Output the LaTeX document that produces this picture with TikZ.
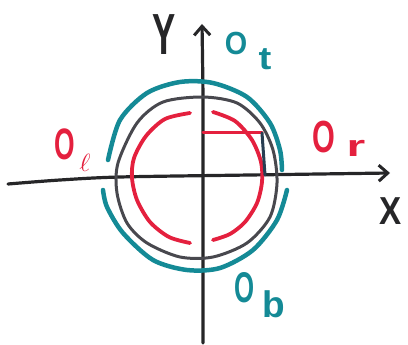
\documentclass[tikz,border=0pt]{standalone}
\usepackage{fontspec}
\setmainfont{Liberation Sans}
\usetikzlibrary{arrows.meta}
\definecolor{tealpen}{RGB}{20,138,150}
\definecolor{redpen}{RGB}{228,32,62}
\definecolor{graypen}{RGB}{72,72,78}
\definecolor{axispen}{RGB}{38,38,40}
\definecolor{navypen}{RGB}{40,62,82}
\tikzset{
  axis/.style={draw=axispen, line width=3.2pt, line cap=round, -{Straight Barb[length=9pt,width=16pt,line width=3pt]}},
  tealarc/.style={draw=tealpen, line width=4.5pt, line cap=round},
  grayring/.style={draw=graypen, line width=3pt},
  redarc/.style={draw=redpen, line width=3.8pt, line cap=round},
  lbl/.style={inner sep=0pt, anchor=base}
}
\begin{document}
\begin{tikzpicture}[x=1pt,y=-1pt]
\useasboundingbox (0,0) rectangle (408,345);
% axes
\draw[axis] plot[smooth] coordinates {(8,184) (60,180) (120,177) (250,175) (390,173)};
\draw[axis] plot[smooth] coordinates {(203,343) (203,200) (203,100) (202,24)};
% gray ring
\draw[grayring] plot[smooth cycle] coordinates {(203,97) (163,102) (137,123) (118,163) (117,193) (127,223) (147,243) (180,257) (213,257) (247,243) (270,217) (277,183) (273,150) (260,123) (237,103)};
% teal arcs
\draw[tealarc] plot[smooth] coordinates {(108,160) (120,120) (147,93) (180,82) (213,83) (247,97) (270,123) (280,150) (282,170)};
\draw[tealarc] plot[smooth] coordinates {(287,190) (277,220) (253,250) (220,268) (187,270) (153,260) (123,233) (107,207) (103,190)};
% red arcs
\draw[redarc] plot[smooth] coordinates {(190,113) (165,119) (146,136) (134,158) (132,178) (137,200) (150,222) (169,237) (190,243)};
\draw[redarc] plot[smooth] coordinates {(213,112) (235,121) (252,140) (261,162) (262,182) (257,203) (245,222) (230,234) (213,240)};
% corner marks
\coordinate (c0) at (203,133);
\coordinate (c1) at (262,133);
\coordinate (c2) at (265,175);
\draw[draw=redpen, line width=3pt, line cap=round] (c0) -- (c1);
\draw[draw=navypen, line width=3pt, line cap=round] (c1) -- (c2);
% labels
\node[lbl, text=axispen, font=\bfseries\fontsize{58}{58}\selectfont, xscale=0.6] (ylab) at (164,55) {Y};
\node[lbl, text=axispen, font=\bfseries\fontsize{39}{39}\selectfont, xscale=0.85] (xlab) at (391,225) {X};
\node[lbl, text=tealpen, font=\bfseries\fontsize{32}{32}\selectfont, xscale=0.9] (otO) at (236,55) {O};
\node[lbl, text=tealpen, font=\bfseries\fontsize{32}{32}\selectfont, xscale=1.2] (ott) at (265,70) {t};
\node[lbl, text=redpen, font=\bfseries\fontsize{44}{44}\selectfont, xscale=0.6] (olO) at (65,160) {O};
\node[lbl, text=redpen, font=\fontsize{38}{38}\selectfont, xscale=1.1] (oll) at (85,172) {$\ell$};
\node[lbl, text=redpen, font=\bfseries\fontsize{45}{45}\selectfont, xscale=0.65] (orO) at (324,153) {O};
\node[lbl, text=redpen, font=\bfseries\fontsize{30}{30}\selectfont, xscale=1.6] (orr) at (356,157) {r};
\node[lbl, text=tealpen, font=\bfseries\fontsize{43}{43}\selectfont, xscale=0.6] (obO) at (245,303) {O};
\node[lbl, text=tealpen, font=\bfseries\fontsize{37}{37}\selectfont] (obb) at (274,318) {b};
\end{tikzpicture}
\end{document}
